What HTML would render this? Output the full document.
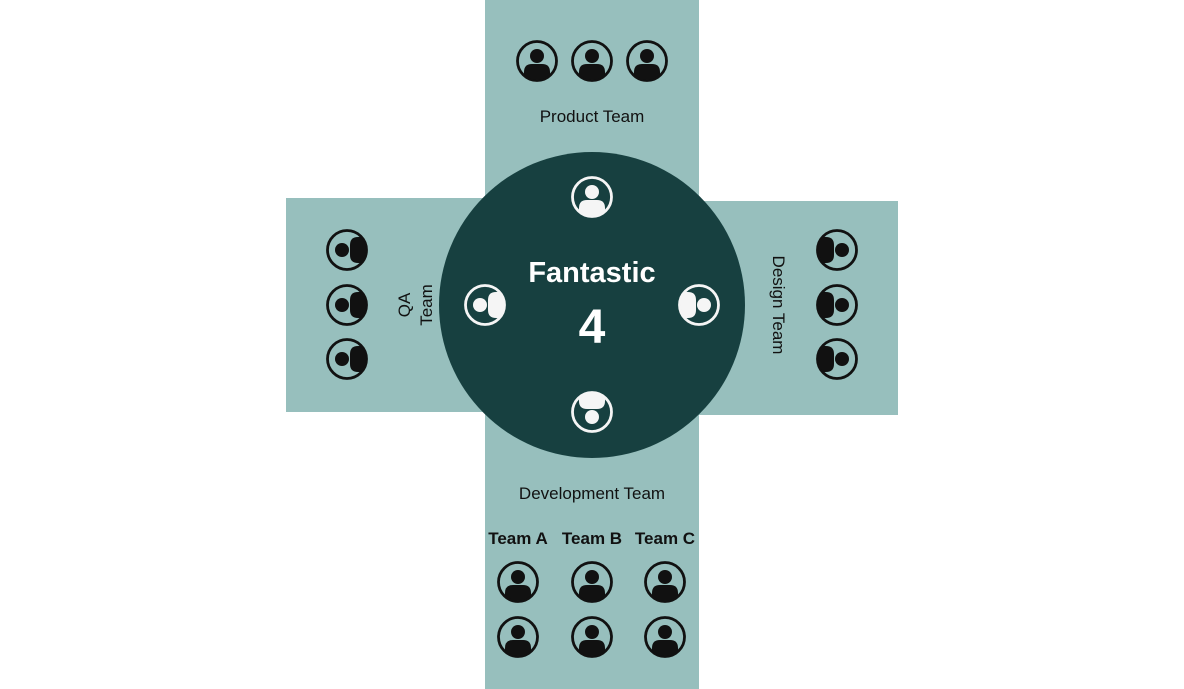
<!DOCTYPE html>
<html><head><meta charset="utf-8"><style>html,body{margin:0;padding:0;background:#fff}svg{display:block}</style></head>
<body>
<svg width="1184" height="689" viewBox="0 0 1184 689" xmlns="http://www.w3.org/2000/svg" font-family="'Liberation Sans', sans-serif">
<defs>
<clipPath id="c" clipPathUnits="userSpaceOnUse"><circle cx="0" cy="0" r="18.5"/></clipPath>
<g id="pk">
<circle r="19.5" fill="none" stroke="#111" stroke-width="2.8"/>
<g clip-path="url(#c)">
<path d="M-13,25 V11 Q-13,3 -5,3 H5 Q13,3 13,11 V25 Z" fill="#111"/>
</g>
<circle cx="0" cy="-5" r="7" fill="#111"/>
</g>
<g id="pw">
<circle r="19.5" fill="none" stroke="#f5f5f5" stroke-width="2.8"/>
<g clip-path="url(#c)">
<path d="M-13,25 V11 Q-13,3 -5,3 H5 Q13,3 13,11 V25 Z" fill="#f5f5f5"/>
</g>
<circle cx="0" cy="-5" r="7" fill="#f5f5f5"/>
</g>
</defs>
<rect x="485" y="0" width="214" height="689" fill="#97bfbd"/>
<rect x="286" y="198" width="210" height="214" fill="#97bfbd"/>
<rect x="690" y="201" width="208" height="214" fill="#97bfbd"/>
<circle cx="592" cy="305" r="153" fill="#174040"/>

<use href="#pk" x="537" y="61"/><use href="#pk" x="592" y="61"/><use href="#pk" x="647" y="61"/>
<text x="592" y="122" font-size="17" text-anchor="middle" fill="#111">Product Team</text>

<g transform="translate(347,250) rotate(-90)"><use href="#pk"/></g>
<g transform="translate(347,305) rotate(-90)"><use href="#pk"/></g>
<g transform="translate(347,359) rotate(-90)"><use href="#pk"/></g>
<text transform="translate(410,305) rotate(-90)" font-size="17" text-anchor="middle" fill="#111">QA</text>
<text transform="translate(432,305) rotate(-90)" font-size="17" text-anchor="middle" fill="#111">Team</text>

<g transform="translate(837,250) rotate(90)"><use href="#pk"/></g>
<g transform="translate(837,305) rotate(90)"><use href="#pk"/></g>
<g transform="translate(837,359) rotate(90)"><use href="#pk"/></g>
<text transform="translate(773,305) rotate(90)" font-size="17" text-anchor="middle" fill="#111">Design Team</text>

<use href="#pw" x="592" y="197"/>
<g transform="translate(485,305) rotate(-90)"><use href="#pw"/></g>
<g transform="translate(699,305) rotate(90)"><use href="#pw"/></g>
<g transform="translate(592,412) rotate(180)"><use href="#pw"/></g>
<text x="592" y="282" font-size="29" font-weight="bold" text-anchor="middle" fill="#fff">Fantastic</text>
<text x="592" y="343" font-size="48" font-weight="bold" text-anchor="middle" fill="#fff">4</text>

<text x="592" y="499" font-size="17" text-anchor="middle" fill="#111">Development Team</text>
<text x="518" y="544" font-size="17" font-weight="bold" text-anchor="middle" fill="#111">Team A</text>
<text x="592" y="544" font-size="17" font-weight="bold" text-anchor="middle" fill="#111">Team B</text>
<text x="665" y="544" font-size="17" font-weight="bold" text-anchor="middle" fill="#111">Team C</text>
<use href="#pk" x="518" y="582"/><use href="#pk" x="592" y="582"/><use href="#pk" x="665" y="582"/>
<use href="#pk" x="518" y="637"/><use href="#pk" x="592" y="637"/><use href="#pk" x="665" y="637"/>
</svg>
</body></html>
